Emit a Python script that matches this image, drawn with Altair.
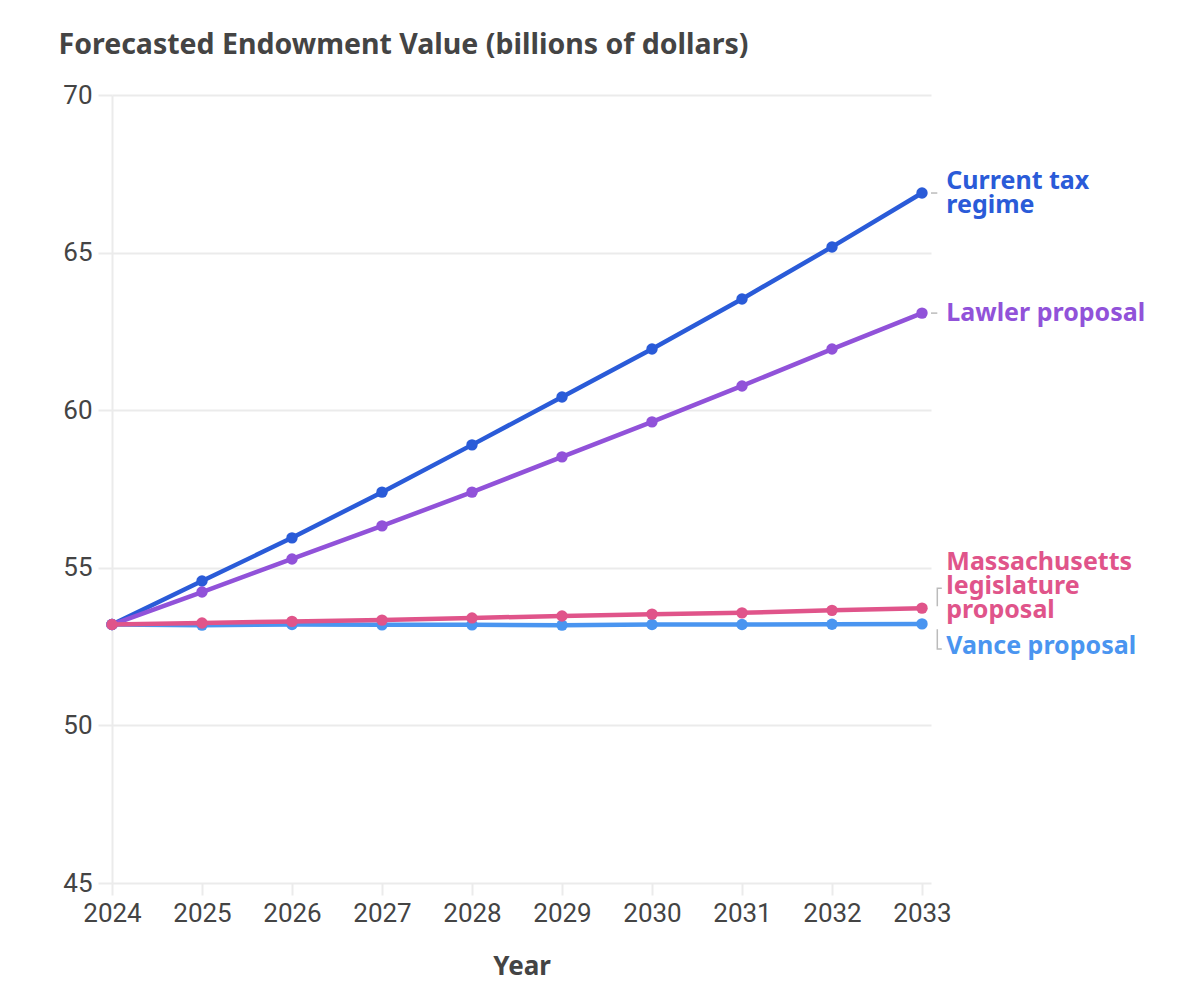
import altair as alt
import pandas as pd

years = [2024, 2025, 2026, 2027, 2028, 2029, 2030, 2031, 2032, 2033]
current = [53.2, 54.58, 55.95, 57.4, 58.9, 60.42, 61.94, 63.53, 65.18, 66.89]
lawler = [53.2, 54.23, 55.28, 56.33, 57.4, 58.52, 59.63, 60.77, 61.94, 63.08]
mass = [53.2, 53.25, 53.3, 53.34, 53.41, 53.47, 53.53, 53.57, 53.65, 53.72]
vance = [53.2, 53.18, 53.2, 53.19, 53.19, 53.18, 53.2, 53.2, 53.21, 53.22]

series_names = ["Current tax regime", "Lawler proposal", "Vance proposal", "Massachusetts legislature proposal"]
series_values = [current, lawler, vance, mass]
series_colors = ["#2a5bd8", "#9152d9", "#4a95f0", "#e0548a"]

label_lines = [["Current tax", "regime"], ["Lawler proposal"], ["Vance proposal"],
               ["Massachusetts", "legislature", "proposal"]]
label_y = [67.27, 63.08, 52.52, 55.18]
label_x = 2033.27

FONT = "Roboto"
LFONT = "Noto Sans"
TXT = "#444444"
GRID = "#ebebeb"

x_scale = alt.Scale(domain=[2024, 2033.1], nice=False)
y_scale = alt.Scale(domain=[45, 70], nice=False)
color_scale = alt.Scale(domain=series_names, range=series_colors)

x_axis = alt.Axis(values=years, format="d", title="Year", labelFont=FONT, labelFontSize=26,
                  labelColor=TXT, titleFont=LFONT, titleFontSize=26, titleFontWeight="bold",
                  titleColor=TXT, titlePadding=27, tickSize=12, tickColor=GRID, tickWidth=2,
                  labelPadding=5, grid=False, domain=False, labelFlush=False)
y_axis = alt.Axis(values=[45, 50, 55, 60, 65, 70], title="Forecasted Endowment Value (billions of dollars)",
                  labelFont=FONT, labelFontSize=26, labelColor=TXT, tickSize=14, tickColor=GRID,
                  tickWidth=2, labelPadding=6, gridColor=GRID, gridWidth=2, domain=True,
                  domainColor=GRID, domainWidth=2, titleAngle=0, titleAlign="left",
                  titleBaseline="alphabetic", titleX=-54, titleY=-42, titleFont=LFONT,
                  titleFontSize=28.5, titleFontWeight="bold", titleColor=TXT)


def X(field):
    return alt.X(field, scale=x_scale, axis=x_axis)


def Y(field):
    return alt.Y(field, scale=y_scale, axis=y_axis)


layers = []
for name, vals in zip(series_names, series_values):
    df = pd.DataFrame({"year": years, "value": vals, "series": name})
    enc = dict(x=X("year:Q"), y=Y("value:Q"),
               color=alt.Color("series:N", scale=color_scale, legend=None))
    layers.append(alt.Chart(df).mark_line(strokeWidth=4.5).encode(**enc))
    layers.append(alt.Chart(df).mark_circle(size=130, opacity=1).encode(**enc))

leader_df = pd.DataFrame({"year": [2033.1, 2033.1], "x2": [2033.17, 2033.17], "value": [66.89, 63.08]})
leaders = alt.Chart(leader_df).mark_rule(color="#bbbbbb", strokeWidth=1.5).encode(
    x=X("year:Q"), x2="x2:Q", y=Y("value:Q"))

br_df = pd.DataFrame({
    "year": [2033.22, 2033.17, 2033.17, 2033.17, 2033.17, 2033.22],
    "value": [54.35, 54.35, 53.78, 53.05, 52.42, 52.42],
    "grp": ["a", "a", "a", "b", "b", "b"],
    "o": [0, 1, 2, 0, 1, 2],
})
brackets = alt.Chart(br_df).mark_line(color="#bbbbbb", strokeWidth=1.5).encode(
    x=X("year:Q"), y=Y("value:Q"), detail="grp:N", order="o:Q")

lab_df = pd.DataFrame({"year": [label_x] * 4, "value": label_y, "text": label_lines, "series": series_names})
labels = alt.Chart(lab_df).mark_text(align="left", baseline="middle", font=LFONT, fontSize=25,
                                     fontWeight="bold", lineHeight=24).encode(
    x=X("year:Q"), y=Y("value:Q"), text="text",
    color=alt.Color("series:N", scale=color_scale, legend=None))

chart = alt.layer(*layers, leaders, brackets, labels).properties(
    width=819, height=788,
    background="white",
    autosize=alt.AutoSizeParams(type="none"),
    padding={"left": 104, "top": 87, "right": 253, "bottom": 110},
).configure_view(strokeWidth=0)

chart.save("out.html", embed_options={"renderer": "svg", "actions": False})
